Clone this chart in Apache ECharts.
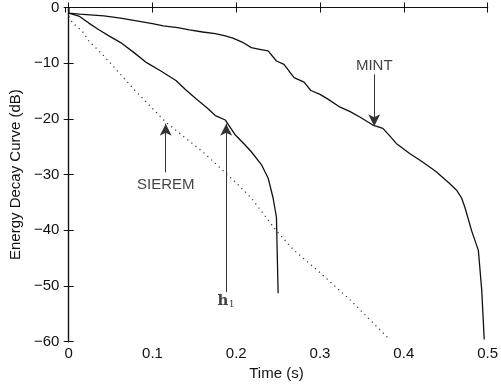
<!DOCTYPE html>
<html>
<head>
<meta charset="utf-8">
<script src="https://cdn.jsdelivr.net/npm/echarts@6/dist/echarts.min.js"></script>
<style>html,body{margin:0;padding:0;background:#fff;}#c{width:501px;height:389px;}</style>
</head>
<body>
<div id="c"></div>
<script>
// ---- data ----
const mintTime = [0, 0, 0.013, 0.042, 0.062, 0.081, 0.100, 0.113, 0.130, 0.144, 0.160, 0.175, 0.187, 0.196, 0.207, 0.218, 0.228, 0.238, 0.248, 0.257, 0.269, 0.281, 0.289, 0.300, 0.309, 0.324, 0.336, 0.348, 0.363, 0.375, 0.383, 0.391, 0.407, 0.422, 0.438, 0.454, 0.463, 0.469, 0.473, 0.481, 0.489, 0.493, 0.496];
const mintDb   = [0, -1.0, -1.2, -1.5, -1.9, -2.4, -2.9, -3.3, -3.6, -4.0, -4.4, -4.7, -5.1, -5.5, -6.2, -7.2, -7.5, -7.8, -9.6, -10.2, -12.6, -13.4, -14.9, -15.6, -16.4, -17.9, -18.7, -19.7, -21.1, -21.7, -23.0, -24.4, -26.2, -27.7, -29.4, -31.5, -32.8, -34.2, -35.9, -40.1, -43.6, -50.7, -59.6];

const h1Time = [0, 0, 0.013, 0.024, 0.036, 0.048, 0.062, 0.078, 0.093, 0.110, 0.128, 0.140, 0.152, 0.165, 0.175, 0.187, 0.199, 0.210, 0.218, 0.230, 0.238, 0.244, 0.248, 0.249, 0.250];
const h1Db   = [0, -1.0, -1.6, -2.8, -4.0, -5.1, -6.3, -8.1, -9.9, -11.4, -13.1, -14.8, -16.4, -18.0, -19.4, -20.2, -22.9, -24.6, -25.9, -28.2, -30.6, -34.2, -37.7, -44.8, -51.3];

const sieremTime = [0, 0.005, 0.0165, 0.024, 0.042, 0.081, 0.116, 0.160, 0.198, 0.218, 0.248, 0.269, 0.297, 0.336, 0.383];
const sieremDb   = [-1.6, -2.8, -4.3, -6.0, -8.7, -15.2, -20.6, -25.9, -31.2, -34.2, -40.1, -43.6, -47.2, -52.5, -59.6];

// annotations: [label, x, labelY, tailY, tipY]
const annotLabels = ['SIEREM', 'h1', 'MINT'];
const annotX      = [0.1158, 0.188, 0.3647];
const annotLabelY = [-31.8, -52.8, -10.5];
const annotTailY  = [-29.6, -51.1, -12.0];
const annotTipY   = [-20.85, -20.85, -21.3];

const xTicks = [0, 0.1, 0.2, 0.3, 0.4, 0.5];
const yTicks = [0, -10, -20, -30, -40, -50, -60];

const FONT = 'Liberation Sans, Arial, Helvetica, sans-serif';
const zip = (a, b) => a.map((v, i) => [v, b[i]]);

const chart = echarts.init(document.getElementById('c'), null, {renderer: 'canvas'});

const axisCommon = {
  axisLine: {show: true, lineStyle: {color: '#111', width: 1.2}},
  axisTick: {show: true, inside: true, length: 5, lineStyle: {color: '#111', width: 1}},
  splitLine: {show: false}
};

const arrowLines = annotX.map((x, i) => [
  {coord: [x, annotTailY[i]], symbol: 'none'},
  {coord: [x, annotTipY[i]], symbol: 'arrow', symbolSize: [9, 12]}
]);

const labelData = annotLabels.map((t, i) => ({value: [annotX[i], annotLabelY[i]], name: t}));

chart.setOption({
  animation: false,
  backgroundColor: '#fff',
  grid: {left: 61, right: 11.5, top: 4.3, bottom: 47.3},
  xAxis: [
    Object.assign({
      type: 'value', min: -0.004, max: 0.5, splitNumber: 5, position: 'bottom',
      name: 'Time (s)', nameLocation: 'middle', nameGap: 23,
      nameTextStyle: {fontFamily: FONT, fontSize: 15, color: '#111'},
      axisLabel: {show: true, margin: 5, fontFamily: FONT, fontSize: 15, color: '#111', showMinLabel: false,
        formatter: v => xTicks.some(t => Math.abs(t - v) < 1e-9) ? String(+v.toFixed(1)) : ''}
    }, axisCommon),
    Object.assign({
      type: 'value', min: -0.004, max: 0.5, splitNumber: 5, position: 'top',
      axisLabel: {show: false}
    }, axisCommon)
  ],
  yAxis: [
    Object.assign({
      type: 'value', min: -60, max: 0, interval: 10, position: 'left',
      name: 'Energy Decay Curve (dB)', nameLocation: 'middle', nameGap: 39, nameRotate: 90,
      nameTextStyle: {fontFamily: FONT, fontSize: 15, color: '#111'},
      axisLabel: {show: true, margin: 6, fontFamily: FONT, fontSize: 15, color: '#111',
        formatter: v => v < 0 ? '\u2212' + (-v) : String(v)}
    }, axisCommon),
    Object.assign({
      type: 'value', min: -60, max: 0, interval: 10, position: 'right',
      axisLabel: {show: false}
    }, axisCommon)
  ],
  series: [
    {
      name: 'SIEREM', type: 'line', data: zip(sieremTime, sieremDb), showSymbol: false,
      lineStyle: {color: '#333', width: 1.2, type: [1.2, 4]}, z: 2
    },
    {
      name: 'h1', type: 'line', data: zip(h1Time, h1Db), showSymbol: false,
      lineStyle: {color: '#111', width: 1.3}, z: 3
    },
    {
      name: 'MINT', type: 'line', data: zip(mintTime, mintDb), showSymbol: false,
      lineStyle: {color: '#111', width: 1.3}, z: 3,
      markLine: {
        silent: true, animation: false,
        lineStyle: {color: '#333', width: 1, type: 'solid'},
        itemStyle: {color: '#111'},
        label: {show: false},
        emphasis: {disabled: true},
        data: arrowLines
      }
    },
    {
      name: 'labels', type: 'scatter', data: labelData, symbolSize: 0, silent: true, z: 5,
      label: {
        show: true, position: 'inside', color: '#111', fontFamily: FONT, fontSize: 15,
        formatter: p => p.name === 'h1' ? '{h|h}{s|1}' : p.name,
        rich: {
          h: {fontFamily: 'DejaVu Serif, Liberation Serif, serif', fontWeight: 'bold', fontSize: 15, color: '#111'},
          s: {fontFamily: 'DejaVu Serif, Liberation Serif, serif', fontSize: 10, color: '#111', padding: [6, 0, 0, 0]}
        }
      }
    }
  ]
});
</script>
</body>
</html>
